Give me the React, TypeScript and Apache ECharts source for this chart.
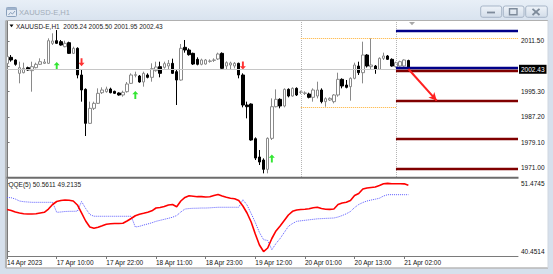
import React, { useEffect, useRef } from 'react';
import * as echarts from 'echarts';

// ---- H1 candles XAUUSD-E (bar index 0..97) ----
const OPEN = [
  2004.3, 2006.26, 2005.41, 2001.13, 2001.34, 2002.95, 2001.99, 2002.95, 2004.02, 2004.34,
  2004.34, 2010.75, 2011.6, 2011.28, 2009.68, 2010.96, 2007.54, 2009.15, 2000.6, 1996.0,
  1985.1, 1989.91, 1991.51, 1994.93, 1995.25, 1996.11, 1995.36, 1994.83, 1994.19, 1995.25,
  1997.92, 2000.49, 2000.28, 1998.35, 2000.6, 1999.85, 2001.99, 2003.27, 2003.05, 2003.48,
  2004.34, 2001.67, 1998.99, 2009.47, 2008.61, 2007.54, 2005.62, 2004.02, 2004.12, 2004.98,
  2005.3, 2005.73, 2007.54, 2003.48, 2003.8, 2003.48, 2004.34, 2000.6, 1990.98, 1991.3,
  1980.18, 1974.31, 1973.34, 1970.35, 1980.29, 1990.44, 1992.8, 1990.66, 1996.0, 1993.86,
  1996.32, 1995.04, 1994.72, 1994.5, 1993.44, 1993.86, 1995.79, 1992.05, 1992.58, 1992.05,
  1994.19, 1999.21, 1997.39, 1996.86, 1999.53, 2003.48, 2001.34, 2007.01, 2003.27, 2003.48,
  2002.41, 2005.94, 2006.69, 2005.62, 2003.27, 2003.48, 2003.48, 2005.24,
];
const HIGH = [
  2007.0, 2007.0, 2005.62, 2004.87, 2004.55, 2003.27, 2004.87, 2004.55, 2005.94, 2005.73,
  2012.35, 2013.96, 2015.0, 2011.82, 2011.6, 2011.28, 2009.68, 2009.47, 2002.2, 1996.32,
  1992.05, 1992.05, 1996.32, 1996.64, 1996.86, 1996.54, 1995.57, 1995.04, 1995.57, 1998.35,
  2001.13, 2001.67, 2000.6, 2001.67, 2001.13, 2004.34, 2004.87, 2004.87, 2004.87, 2005.41,
  2005.83, 2002.2, 2010.54, 2011.82, 2009.15, 2007.76, 2006.26, 2005.83, 2005.73, 2005.62,
  2005.94, 2007.76, 2007.86, 2004.98, 2004.87, 2004.77, 2004.55, 2001.13, 1992.05, 1991.51,
  1980.61, 1976.55, 1973.88, 1980.61, 1993.11, 1996.0, 1993.11, 1996.32, 1996.32, 1996.64,
  1996.64, 1995.57, 1995.36, 1994.93, 1996.32, 1998.46, 1996.32, 1993.44, 1993.44, 1994.5,
  2001.34, 1999.53, 1999.0, 1999.85, 2004.55, 2004.87, 2011.28, 2007.3, 2012.35, 2003.8,
  2006.26, 2007.76, 2007.01, 2005.94, 2004.87, 2005.19, 2005.62, 2005.5,
];
const LOW = [
  2004.1, 2004.87, 2003.59, 1997.93, 2001.13, 2001.99, 1995.25, 2002.73, 2003.8, 2004.12,
  2004.12, 2010.21, 2010.53, 2010.0, 2009.47, 2007.33, 2007.33, 1999.53, 1992.05, 1981.04,
  1984.89, 1989.38, 1991.3, 1994.5, 1994.93, 1994.72, 1994.5, 1993.97, 1993.65, 1994.93,
  1997.71, 1999.85, 1998.14, 1996.86, 1999.53, 1998.46, 2001.67, 1999.85, 2002.63, 2002.2,
  2000.92, 1990.98, 1998.78, 2007.76, 2006.8, 2003.8, 2003.7, 2003.7, 2003.91, 2004.55,
  2004.77, 2005.41, 2002.2, 2002.2, 2002.2, 2002.73, 1999.53, 1990.23, 1986.7, 1979.54,
  1973.34, 1971.74, 1969.07, 1969.07, 1979.76, 1990.23, 1989.91, 1990.23, 1993.44, 1993.65,
  1993.86, 1994.5, 1994.19, 1993.11, 1992.05, 1993.11, 1991.51, 1990.44, 1992.26, 1991.51,
  1993.65, 1996.32, 1996.32, 1992.37, 1999.21, 2000.6, 1997.92, 2003.0, 2002.2, 2000.99,
  2002.2, 2005.41, 2005.41, 2003.27, 2002.95, 2003.27, 2003.27, 2001.95,
];
const CLOSE = [
  2006.5, 2005.41, 2004.02, 2002.95, 2002.73, 2002.2, 2003.27, 2004.02, 2004.87, 2004.77,
  2011.6, 2011.5, 2010.75, 2010.21, 2010.75, 2007.54, 2009.15, 2000.6, 1995.79, 1985.1,
  1989.91, 1991.51, 1994.72, 1995.79, 1996.11, 1994.93, 1994.72, 1994.19, 1995.04, 1997.71,
  2000.6, 2000.7, 1998.35, 2001.13, 1999.85, 2002.63, 2003.16, 2001.13, 2004.23, 2004.34,
  2001.13, 1998.99, 2009.15, 2008.61, 2007.12, 2004.12, 2004.02, 2005.41, 2005.41, 2005.09,
  2005.41, 2007.33, 2002.73, 2004.55, 2004.44, 2004.34, 2000.6, 1990.98, 1990.44, 1979.76,
  1973.98, 1972.7, 1970.35, 1980.29, 1990.44, 1992.8, 1990.66, 1996.0, 1993.86, 1996.32,
  1994.19, 1995.15, 1994.83, 1993.44, 1995.79, 1995.79, 1992.05, 1993.01, 1993.11, 1994.19,
  1999.21, 1997.07, 1996.64, 1999.53, 2003.8, 2001.34, 2007.01, 2003.48, 2003.8, 2002.41,
  2005.94, 2006.69, 2005.62, 2003.48, 2004.55, 2004.87, 2005.41, 2002.43,
];

// ---- QQE(5) indicator ----
const QQE_MAIN = [
  47.25, 47.09, 46.85, 46.69, 46.57, 46.53, 46.53, 46.57, 46.69, 46.80,
  47.33, 48.06, 48.54, 48.70, 48.78, 48.74, 48.62, 47.98, 46.69, 45.40,
  44.43, 44.22, 44.38, 44.62, 44.88, 44.96, 44.99, 44.99, 45.03, 45.40,
  45.80, 46.24, 46.48, 46.64, 46.82, 47.04, 47.49, 47.57, 47.73, 47.98,
  48.06, 47.70, 48.62, 49.19, 49.46, 49.40, 49.32, 49.32, 49.27, 49.30,
  49.51, 49.67, 49.43, 49.22, 49.06, 48.98, 48.70, 47.82, 46.69, 45.24,
  43.30, 41.53, 40.48, 41.05, 42.58, 43.79, 44.59, 45.48, 46.37, 46.96,
  47.17, 47.25, 47.30, 47.38, 47.53, 47.61, 47.41, 47.30, 47.28, 47.33,
  48.06, 48.30, 48.43, 48.70, 49.51, 49.83, 50.56, 50.72, 50.80, 50.88,
  51.12, 51.40, 51.47, 51.41, 51.41, 51.41, 51.39, 51.15,
];
const QQE_SIGNAL = [
  49.19, 49.15, 48.94, 48.62, 48.51, 48.46, 48.41, 48.41, 48.41, 48.41,
  48.41, 48.41, 46.80, 46.85, 46.93, 46.96, 46.96, 46.98, 48.54, 47.41,
  46.45, 46.17, 46.16, 46.16, 46.16, 46.16, 46.16, 46.16, 46.16, 46.16,
  46.16, 44.43, 44.54, 44.75, 44.92, 45.11, 45.35, 45.51, 45.67, 45.83,
  46.01, 46.28, 46.85, 47.33, 47.41, 47.45, 47.46, 47.49, 47.49, 47.52,
  47.57, 47.61, 47.61, 47.61, 47.61, 47.61, 47.61, 48.83, 47.98, 46.61,
  45.16, 43.55, 42.39, 42.26, 40.77, 41.77, 42.58, 43.55, 44.54, 44.99,
  45.35, 45.43, 45.51, 45.59, 45.67, 45.75, 45.78, 45.82, 45.85, 45.88,
  46.04, 46.28, 46.56, 46.93, 47.57, 48.06, 48.38, 48.62, 48.78, 48.91,
  49.07, 49.43, 49.64, 49.64, 49.64, 49.64, 49.64, 49.64,
];

// ---- axes ----
const TIME_LABEL_BARS = [0, 12, 24, 36, 48, 60, 72, 84, 96];
const TIME_LABELS = [
  '14 Apr 2023', '17 Apr 10:00', '17 Apr 22:00', '18 Apr 11:00', '18 Apr 23:00',
  '19 Apr 12:00', '20 Apr 01:00', '20 Apr 13:00', '21 Apr 02:00',
];
const PRICE_TICKS = [2011.5, 2003.4, 1995.3, 1987.2, 1979.1, 1971.0];
const PRICE_LABELS = [2011.5, 1995.3, 1987.2, 1979.1, 1971.0]; // 2003.40 is covered by the bid tag
const QQE_TICKS = [51.4745, 40.4514];
const PRICE_MIN = 1967.9;
const PRICE_MAX = 2017.91;
const QQE_MIN = 39.758;
const QQE_MAX = 52.168;
const X_MIN = -0.5;
const X_MAX = 123.5;

// ---- objects on chart ----
const BUY_ARROWS = [[12, 2003.48], [31, 1994.19], [64, 1973.83]];
const SELL_ARROWS = [[18, 2004.7], [57, 2003.64]];
const BID = 2002.43;
const SESSION_BARS = [71, 94];
const ORANGE_HIGH = 2012.37;
const ORANGE_LOW = 1990.24;
const LEVELS_BLUE = [2014.64, 2002.94];
const LEVELS_RED = [2001.88, 1992.49, 1980.3, 1970.69];
const PROJ_FROM = [97, 2002.52];
const PROJ_TO = [103.85, 1992.36];

const FONT = '"Liberation Sans", Arial, sans-serif';
const ARROW_PATH = 'path://M5,0 L10,5 L6.6,5 L6.6,12 L3.4,12 L3.4,5 L0,5 Z';

function buildOption() {
  const candles = OPEN.map((o, i) => [i, o, CLOSE[i], LOW[i], HIGH[i]]);
  const levelLine = (v: number, color: string) => [
    { coord: [SESSION_BARS[1], v], lineStyle: { color, width: 2.4, type: 'solid' } },
    { coord: [X_MAX, v] },
  ];
  const markData: any[] = [
    {
      yAxis: BID,
      lineStyle: { color: '#c6c6c6', width: 1, type: 'solid' },
      label: {
        show: true, position: 'end', formatter: BID.toFixed(2), color: '#ffffff',
        backgroundColor: '#000000', padding: [1, 2, 1, 2], fontSize: 6.5, fontFamily: FONT, distance: 1,
      },
    },
    ...SESSION_BARS.map((b) => ({ xAxis: b, lineStyle: { color: '#b4b4b4', width: 1, type: 'dotted' } })),
    [{ coord: [SESSION_BARS[0], ORANGE_HIGH], lineStyle: { color: '#ffb030', width: 1, type: 'dotted' } }, { coord: [X_MAX, ORANGE_HIGH] }],
    [{ coord: [SESSION_BARS[0], ORANGE_LOW], lineStyle: { color: '#ffb030', width: 1, type: 'dotted' } }, { coord: [SESSION_BARS[1], ORANGE_LOW] }],
    ...LEVELS_BLUE.map((v) => levelLine(v, '#000088')),
    ...LEVELS_RED.map((v) => levelLine(v, '#800000')),
    [
      { coord: PROJ_FROM, symbol: 'none', lineStyle: { color: '#ff2020', width: 2, type: 'solid' } },
      { coord: PROJ_TO, symbol: 'arrow', symbolSize: [6, 8] },
    ],
  ];

  const graphic: any[] = [
    {
      type: 'rect', z: -20, shape: { x: 0, y: 0, width: 553, height: 20 }, silent: true,
      style: { fill: new echarts.graphic.LinearGradient(0, 0, 0, 1, [{ offset: 0, color: '#e8eff7' }, { offset: 1, color: '#d9e3ef' }]) },
    },
    { type: 'rect', z: -20, shape: { x: 6, y: 21, width: 542, height: 247 }, style: { fill: '#ffffff' }, silent: true },
    { type: 'rect', z: 20, shape: { x: 4, y: 20, width: 3, height: 249 }, style: { fill: '#d4dde8' }, silent: true },
    { type: 'line', z: 21, shape: { x1: 6, y1: 20.5, x2: 6, y2: 268 }, style: { stroke: '#a6a6a6', lineWidth: 1.5 }, silent: true },
    { type: 'line', z: 21, shape: { x1: 6, y1: 20.5, x2: 548, y2: 20.5 }, style: { stroke: '#b0b0b0', lineWidth: 1 }, silent: true },
    { type: 'line', z: 21, shape: { x1: 6, y1: 268, x2: 548, y2: 268 }, style: { stroke: '#b8b8b8', lineWidth: 1.5 }, silent: true },
    { type: 'line', z: 21, shape: { x1: 548, y1: 20.5, x2: 548, y2: 268 }, style: { stroke: '#cfd6df', lineWidth: 1 }, silent: true },
    { type: 'rect', z: 20, shape: { x: 6, y: 176.8, width: 512.5, height: 2 }, style: { fill: '#6c6c6c' }, silent: true },
    { type: 'rect', z: 5, shape: { x: 6.5, y: 7.5, width: 10, height: 9, r: 1 }, style: { fill: '#e4ebf4', stroke: '#8aa0bb', lineWidth: 1 }, silent: true },
    { type: 'rect', z: 5, shape: { x: 6.5, y: 7.5, width: 10, height: 2.5 }, style: { fill: '#9fb3cc' }, silent: true },
    { type: 'polyline', z: 5, shape: { points: [[8.5, 15], [10.5, 12.5], [12.5, 14], [15, 11]] }, style: { stroke: '#8aa0bb', lineWidth: 1, fill: 'none' }, silent: true },
    {
      type: 'text', z: 5, silent: true,
      style: { text: 'XAUUSD-E,H1', x: 19, y: 12, fill: '#a3adb9', font: `7.6px ${FONT}`, verticalAlign: 'middle' },
    },
    ...[[480.7, 21], [503.3, 20.7], [525.7, 21.6]].map(([bx, bw]) => ({
      type: 'rect', z: 5, silent: true,
      shape: { x: bx, y: 6, width: bw, height: 11.3, r: 2 },
      style: {
        fill: new echarts.graphic.LinearGradient(0, 0, 0, 1, [{ offset: 0, color: '#eef3f9' }, { offset: 1, color: '#d3dde9' }]),
        stroke: '#a7b5c7', lineWidth: 1,
      },
    })),
    { type: 'rect', z: 6, silent: true, shape: { x: 487, y: 11.6, width: 8, height: 1.8 }, style: { fill: '#7e8b9b' } },
    { type: 'rect', z: 6, silent: true, shape: { x: 509.5, y: 8.8, width: 7.5, height: 6 }, style: { fill: 'none', stroke: '#7e8b9b', lineWidth: 1.4 } },
    { type: 'line', z: 6, silent: true, shape: { x1: 532.5, y1: 8.8, x2: 539.5, y2: 15 }, style: { stroke: '#7e8b9b', lineWidth: 1.8 } },
    { type: 'line', z: 6, silent: true, shape: { x1: 539.5, y1: 8.8, x2: 532.5, y2: 15 }, style: { stroke: '#7e8b9b', lineWidth: 1.8 } },
    { type: 'polygon', z: 6, silent: true, shape: { points: [[9.5, 24.6], [13.5, 24.6], [11.5, 27.2]] }, style: { fill: '#000000' } },
    {
      type: 'text', z: 6, silent: true,
      style: {
        text: 'XAUUSD-E,H1  2005.24 2005.50 2001.95 2002.43', x: 16, y: 26.3,
        fill: '#1a1a1a', font: `6.5px ${FONT}`, verticalAlign: 'middle',
      },
    },
    {
      type: 'text', z: 6, silent: true,
      style: { text: 'QQE(5) 50.5611 49.2135', x: 8.5, y: 184.6, fill: '#1a1a1a', font: `6.5px ${FONT}`, verticalAlign: 'middle' },
    },
    { type: 'polygon', z: 6, silent: true, shape: { points: [[409, 22], [415, 22], [412, 25.2]] }, style: { fill: '#a8a8a8' } },
  ];

  const axisColor = '#7a7a7a';
  return {
    animation: false,
    backgroundColor: '#d6e0ec',
    textStyle: { fontFamily: FONT },
    graphic,
    grid: [
      { left: 5, top: 21, width: 513, height: 156, containLabel: false, outerBoundsMode: 'none' },
      { left: 5, top: 179, width: 513, height: 77, containLabel: false, outerBoundsMode: 'none' },
    ],
    xAxis: [
      { type: 'value', gridIndex: 0, min: X_MIN, max: X_MAX, show: false },
      {
        type: 'value', gridIndex: 1, min: X_MIN, max: X_MAX,
        axisLine: { show: true, lineStyle: { color: axisColor, width: 1 } },
        axisTick: { show: true, customValues: TIME_LABEL_BARS, length: 3, lineStyle: { color: axisColor } },
        axisLabel: {
          customValues: TIME_LABEL_BARS, align: 'left', margin: 2.5, fontSize: 6.5, color: '#111',
          formatter: (v: number) => TIME_LABELS[TIME_LABEL_BARS.indexOf(Math.round(v))] || '',
        },
        splitLine: { show: false },
      },
    ],
    yAxis: [
      {
        type: 'value', gridIndex: 0, position: 'right', min: PRICE_MIN, max: PRICE_MAX,
        axisLine: { show: true, lineStyle: { color: axisColor, width: 1 } },
        axisTick: { show: true, customValues: PRICE_TICKS, length: 2.5, lineStyle: { color: axisColor } },
        axisLabel: { customValues: PRICE_LABELS, margin: 3, fontSize: 6.5, color: '#111', formatter: (v: number) => v.toFixed(2) },
        splitLine: { show: false },
      },
      {
        type: 'value', gridIndex: 1, position: 'right', min: QQE_MIN, max: QQE_MAX,
        axisLine: { show: true, lineStyle: { color: axisColor, width: 1 } },
        axisTick: { show: true, customValues: QQE_TICKS, length: 2.5, lineStyle: { color: axisColor } },
        axisLabel: { customValues: QQE_TICKS, margin: 3, fontSize: 6.5, color: '#111', formatter: (v: number) => v.toFixed(4) },
        splitLine: { show: false },
      },
    ],
    series: [
      {
        type: 'candlestick', xAxisIndex: 0, yAxisIndex: 0, data: candles, barWidth: 3,
        itemStyle: { color: '#ffffff', color0: '#000000', borderColor: '#8a8a8a', borderColor0: '#000000', borderWidth: 1 },
        markLine: { silent: true, animation: false, symbol: ['none', 'none'], label: { show: false }, data: markData },
      },
      {
        type: 'scatter', xAxisIndex: 0, yAxisIndex: 0, data: BUY_ARROWS, symbol: ARROW_PATH,
        symbolSize: [6, 8], itemStyle: { color: '#00e000' }, silent: true,
      },
      {
        type: 'scatter', xAxisIndex: 0, yAxisIndex: 0, data: SELL_ARROWS, symbol: ARROW_PATH,
        symbolSize: [6, 8], symbolRotate: 180, itemStyle: { color: '#ff0000' }, silent: true,
      },
      {
        type: 'line', xAxisIndex: 1, yAxisIndex: 1, data: QQE_SIGNAL.map((v, i) => [i, v]),
        showSymbol: false, lineStyle: { color: '#5a5aff', width: 1, type: 'dotted' }, silent: true,
      },
      {
        type: 'line', xAxisIndex: 1, yAxisIndex: 1, data: QQE_MAIN.map((v, i) => [i, v]),
        showSymbol: false, lineStyle: { color: '#ff0000', width: 1.6 }, silent: true,
      },
    ],
  };
}

export default function App() {
  const ref = useRef<HTMLDivElement>(null);
  useEffect(() => {
    document.body.style.margin = '0';
    const chart = echarts.init(ref.current as HTMLDivElement, null, { renderer: 'svg', width: 553, height: 274 });
    chart.setOption(buildOption() as any);
    return () => chart.dispose();
  }, []);
  return <div ref={ref} style={{ position: 'absolute', left: 0, top: 0, width: 553, height: 274 }} />;
}
